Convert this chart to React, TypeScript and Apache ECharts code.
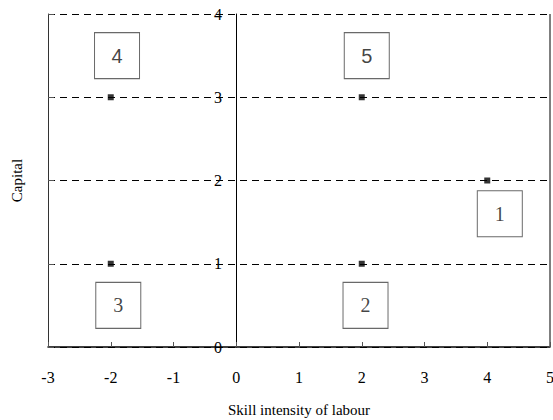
import React, { useEffect, useRef } from "react";
import * as echarts from "echarts";

const xTicks = [-3, -2, -1, 0, 1, 2, 3, 4, 5];
const yTicks = [0, 1, 2, 3, 4];
const pointsX = [-2, 2, 4, -2, 2];
const pointsY = [3, 3, 2, 1, 1];
const boxLabels = ["4", "5", "1", "3", "2"];
const boxX = [-1.9, 2.08, 4.2, -1.88, 2.06];
const boxY = [3.5, 3.5, 1.6, 0.5, 0.5];
const xName = "Skill intensity of labour";
const yName = "Capital";

const SERIF = "Liberation Serif";
const SANS = "Liberation Sans";
const boxFonts = [SANS, SANS, SERIF, SERIF, SERIF];

export default function App() {
  const ref = useRef<HTMLDivElement>(null);
  useEffect(() => {
    const chart = echarts.init(ref.current!, null, { renderer: "svg" });
    chart.setOption({
      animation: false,
      backgroundColor: "#fff",
      textStyle: { fontFamily: SERIF, fontSize: 15 },
      grid: { left: 48, right: 3, top: 14, bottom: 73, containLabel: false, outerBoundsMode: "none" },
      xAxis: {
        type: "value",
        min: xTicks[0],
        max: xTicks[xTicks.length - 1],
        interval: 1,
        name: xName,
        nameLocation: "middle",
        nameGap: 55,
        nameTextStyle: { fontFamily: SERIF, fontSize: 15, color: "#000" },
        axisLine: { show: true, lineStyle: { color: "#000", width: 1.5 } },
        axisTick: { show: true, inside: true, length: 5, lineStyle: { color: "#555" } },
        axisLabel: { fontFamily: SERIF, fontSize: 16, color: "#000", margin: 22 },
        splitLine: { show: false },
      },
      yAxis: [
        {
          type: "value",
          min: yTicks[0],
          max: yTicks[yTicks.length - 1],
          interval: 1,
          position: "left",
          axisLine: { show: true, onZero: false, lineStyle: { color: "#333", width: 1 } },
          axisTick: { show: true, inside: true, length: 6, lineStyle: { color: "#555" } },
          axisLabel: { show: false },
          splitLine: { show: true, lineStyle: { type: [7, 5], color: "#000", width: 1 } },
          name: yName,
          nameLocation: "middle",
          nameGap: 24,
          nameTextStyle: { fontFamily: SERIF, fontSize: 15, color: "#000" },
        },
        {
          type: "value",
          min: yTicks[0],
          max: yTicks[yTicks.length - 1],
          interval: 1,
          position: "left",
          offset: -188,
          axisLine: { show: true, onZero: false, lineStyle: { color: "#000", width: 1 } },
          axisTick: { show: false },
          axisLabel: { fontFamily: SERIF, fontSize: 16, color: "#000", margin: 14 },
          splitLine: { show: false },
        },
      ],
      series: [
        {
          type: "scatter",
          data: [],
          markLine: {
            silent: true,
            symbol: "none",
            label: { show: false },
            lineStyle: { color: "#555", type: "solid", width: 1.5 },
            data: [{ xAxis: xTicks[xTicks.length - 1] }],
          },
        },
        {
          type: "scatter",
          symbol: "rect",
          symbolSize: 6,
          itemStyle: { color: "#000" },
          data: pointsX.map((x, i) => [x, pointsY[i]]),
          z: 5,
        },
        {
          type: "scatter",
          symbol: "rect",
          symbolSize: [45, 46],
          itemStyle: { color: "#fff", borderColor: "#444", borderWidth: 1 },
          label: {
            show: true,
            position: "inside",
            fontFamily: SERIF,
            fontSize: 20,
            color: "#111",
            textBorderWidth: 0,
            formatter: (p: any) => p.name,
          },
          data: boxLabels.map((t, i) => ({
            value: [boxX[i], boxY[i]],
            name: t,
            label: { fontFamily: boxFonts[i] },
          })),
          z: 4,
        },
      ],
    });
    return () => chart.dispose();
  }, []);
  return <div ref={ref} style={{ width: 553, height: 420, position: "absolute", left: 0, top: 0 }} />;
}
